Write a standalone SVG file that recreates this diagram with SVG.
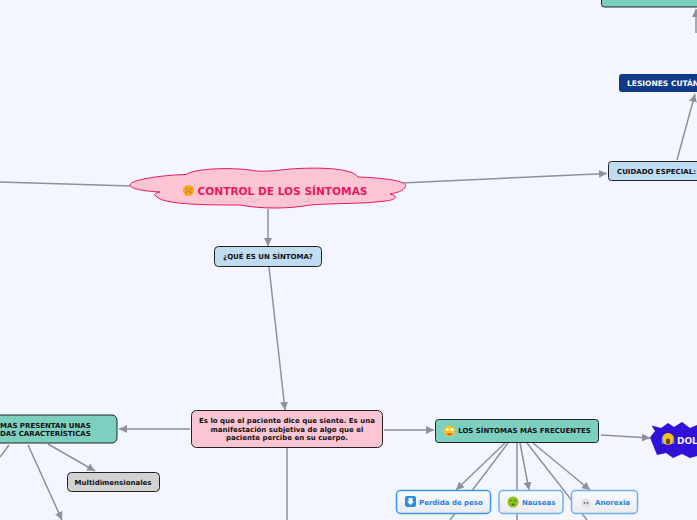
<svg xmlns="http://www.w3.org/2000/svg" width="697" height="520" viewBox="0 0 697 520">
<style>
text{font-family:"DejaVu Sans",Verdana,sans-serif;font-weight:700;fill:#111;text-anchor:middle}
.s{font-size:7px}
.c{stroke:#8f9197;stroke-width:1.5;fill:none}
.a{fill:#8f9197;stroke:none}
.b{stroke:#222;stroke-width:1}
.blue{fill:#bfdcf0}.teal{fill:#7dcfc0}.pink{fill:#fcc5d3}
.lb{fill:url(#lg);stroke:#6cb0f5;stroke-width:1.5}
.lt{fill:#2b7de0;font-size:7px;text-anchor:start}
</style>
<defs>
<marker id="ah" markerWidth="9" markerHeight="8" refX="8" refY="4" orient="auto" markerUnits="userSpaceOnUse"><path class="a" d="M0 0L8 4L0 8Z"/></marker>
<linearGradient id="lg" x1="0" y1="0" x2="0" y2="1"><stop offset="0" stop-color="#fbfcff"/><stop offset="1" stop-color="#e9eaee"/></linearGradient>
</defs>
<rect width="697" height="520" fill="#f3f6ff"/>
<g id="connectors">
<path class="c" d="M0 182L131 186"/>
<path class="c" d="M401 183L607 173.500" marker-end="url(#ah)"/>
<path class="c" d="M677 160L695 94" marker-end="url(#ah)"/>
<path class="c" d="M696 33L696 9" marker-end="url(#ah)"/>
<path class="c" d="M268 209L268 246" marker-end="url(#ah)"/>
<path class="c" d="M269 267L285 410" marker-end="url(#ah)"/>
<path class="c" d="M190 429L119 429" marker-end="url(#ah)"/>
<path class="c" d="M384 430L434 430" marker-end="url(#ah)"/>
<path class="c" d="M287 448L287 520"/>
<path class="c" d="M48 444L95 471" marker-end="url(#ah)"/>
<path class="c" d="M28 445L62 520" marker-end="url(#ah)"/>
<path class="c" d="M9 445L0 457"/>
<path class="c" d="M601 435L650 438" marker-end="url(#ah)"/>
<path class="c" d="M505 443L456 490" marker-end="url(#ah)"/>
<path class="c" d="M508 443L450 520"/>
<path class="c" d="M517 443L517 520"/>
<path class="c" d="M520 443L529 490" marker-end="url(#ah)"/>
<path class="c" d="M527 443L587 520"/>
<path class="c" d="M533 443L590 490" marker-end="url(#ah)"/>
</g>
<g id="n-control">
<path d="M186 174.500C195 168 235 167 256 171C266 172 280 170 290 169C320 167 352 168 358 177C385 178 408 181 405.500 186.500C404 191 396 193 390 194C399 196 396 200 385 201C365 204 335 203 310 205C290 209 260 209 240 205C210 205 165 205 157 197C153 195 155 192 160 192C140 191 128 188 130.500 184C134 179 165 175 186 174.500Z" fill="#fcc5d3" stroke="#e8195f" stroke-width="1"/>
<circle cx="188.500" cy="190.500" r="5.500" fill="#f5a623"/>
<path d="M185.500 192.500Q188.500 190.500 191.500 192.500" fill="none" stroke="#a8651a" stroke-width="0.800"/>
<circle cx="186.500" cy="189" r="0.800" fill="#a8651a"/><circle cx="190.500" cy="189" r="0.800" fill="#a8651a"/>
<text x="282.500" y="195" style="font-size:10.600px;fill:#e8195f">CONTROL DE LOS SÍNTOMAS</text>
</g>
<g id="n-que">
<rect class="b blue" x="214.500" y="246.500" width="107" height="20" rx="4"/>
<text class="s" x="268" y="259">¿QUÉ ES UN SÍNTOMA?</text>
</g>
<g id="n-es">
<rect class="b pink" x="191.500" y="410.500" width="191" height="37" rx="5"/>
<text class="s" x="287" y="423">Es lo que el paciente dice que siente. Es una</text>
<text class="s" x="287" y="432">manifestación subjetiva de algo que el</text>
<text class="s" x="287" y="440">paciente percibe en su cuerpo.</text>
</g>
<g id="n-presentan">
<rect class="b teal" x="-60" y="415" width="177" height="28" rx="5"/>
<text class="s" x="0" y="428" style="text-anchor:start">MAS PRESENTAN UNAS</text>
<text class="s" x="0" y="436" style="text-anchor:start">DAS CARACTERÍSTICAS</text>
</g>
<g id="n-multi">
<rect class="b" x="67.500" y="472.500" width="92" height="19" rx="4" fill="#d2d2d2"/>
<text class="s" x="113" y="485">Multidimensionales</text>
</g>
<g id="n-frecuentes">
<rect class="b teal" x="435.500" y="419.500" width="163" height="23" rx="3"/>
<circle cx="449.500" cy="431" r="5.500" fill="#f5c518"/>
<path d="M446 433.500Q449.500 437 453 433.500Z" fill="#d9304f"/>
<circle cx="447.500" cy="429.500" r="1.300" fill="#fff"/><circle cx="452" cy="429.500" r="1.600" fill="#fff"/>
<text class="s" x="524.500" y="433">LOS SÍNTOMAS MÁS FRECUENTES</text>
</g>
<g id="n-dolor">
<path d="M650 437.500L655 431L651.500 425.500L661 428L668 423L674 427L682 422L690 428L697 425L697 456L690 458L682 454L673 458L666 453L657 455L654 447.500Z" fill="#3310d8"/>
<circle cx="668" cy="439" r="6" fill="#f5c518"/>
<ellipse cx="668" cy="441.500" rx="2.200" ry="3" fill="#7a3d1a"/>
<path d="M662.500 438L662.500 444M673.500 438L673.500 444" stroke="#4da0f5" stroke-width="1.500"/>
<text x="677" y="443.500" style="font-size:9px;fill:#ecebff;text-anchor:start">DOL</text>
</g>
<g id="n-peso">
<rect class="lb" x="396.500" y="490.500" width="94" height="23" rx="4" style="stroke:#3c96f2"/>
<rect x="405" y="496" width="11" height="11" rx="2" fill="#2b8fe0"/>
<path d="M408.500 498H412.500V501.500H414L410.500 505L407 501.500H408.500Z" fill="#fff"/>
<text class="lt" x="419" y="505">Perdida de peso</text>
</g>
<g id="n-nauseas">
<rect class="lb" x="499" y="490.500" width="64" height="23" rx="4"/>
<circle cx="513" cy="502" r="5.500" fill="#8dbf1f"/>
<circle cx="511" cy="500.500" r="0.800" fill="#4a6a10"/><circle cx="515" cy="500.500" r="0.800" fill="#4a6a10"/>
<ellipse cx="513" cy="504.500" rx="1.500" ry="1" fill="#4a6a10"/>
<text class="lt" x="522" y="505">Nauseas</text>
</g>
<g id="n-anorexia">
<rect class="lb" x="571.500" y="490.500" width="66" height="23" rx="4"/>
<circle cx="586" cy="503" r="4.500" fill="#e2e2e2"/>
<circle cx="584.500" cy="503" r="1" fill="#777"/><circle cx="587.500" cy="503" r="1" fill="#777"/>
<text class="lt" x="595" y="505">Anorexia</text>
</g>
<g id="n-especial">
<rect class="b blue" x="608.500" y="161.500" width="110" height="19" rx="3"/>
<text class="s" x="617" y="174" style="text-anchor:start">CUIDADO ESPECIAL:</text>
</g>
<g id="n-lesiones">
<rect x="619" y="74" width="100" height="18" rx="3" fill="#123a8a"/>
<text x="627" y="86" style="font-size:7.500px;text-anchor:start;fill:#fff">LESIONES CUTÁN</text>
</g>
<g id="n-top">
<rect class="b teal" x="601.500" y="-20" width="120" height="27" rx="3"/>
</g>
</svg>
